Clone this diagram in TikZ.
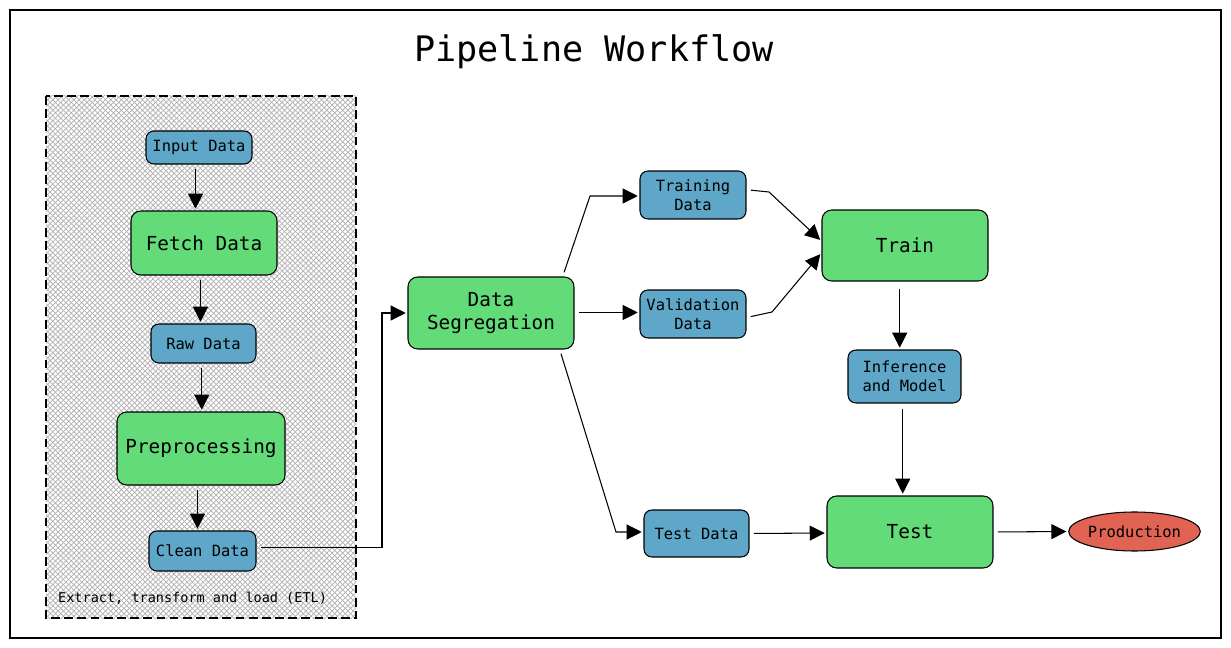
\documentclass[tikz,border=0pt]{standalone}
\usepackage{fontspec}
\setmonofont{DejaVu Sans Mono}
\usetikzlibrary{arrows.meta,patterns,shapes.geometric,positioning}

\definecolor{stagegreen}{HTML}{62DB78}
\definecolor{datablue}{HTML}{5EA7C8}
\definecolor{prodred}{HTML}{E06353}

\tikzset{
  stage/.style={draw, rounded corners=5.5pt, fill=stagegreen, align=center,
    inner sep=0pt, line width=0.6pt, font=\ttfamily\fontsize{11}{13.6}\selectfont},
  data/.style={draw, rounded corners=4.5pt, fill=datablue, align=center,
    inner sep=0pt, line width=0.6pt, font=\ttfamily\fontsize{8.8}{10.8}\selectfont},
  arr/.style={-{Triangle[length=0.3cm,width=0.3cm]}, line width=0.6pt,
    shorten <=2.5pt, shorten >=1pt}
}

\begin{document}
\begin{tikzpicture}[x=0.02cm,y=-0.02cm]

    \useasboundingbox (0,0) rectangle (1231,648);
    % outer frame
    \draw[line width=0.7pt] (10,10) rectangle (1221,638);
    \node (title) at (594,52) {\ttfamily\fontsize{20}{24}\selectfont Pipeline Workflow};

    % ETL box
    \fill[white] (46,96) rectangle (356,618);
    \fill[pattern=crosshatch, pattern color=gray!60] (46,96) rectangle (356,618);
    \draw[line width=0.7pt, dash pattern=on 5pt off 2.5pt] (46,96) rectangle (356,618);
    \node[anchor=west, font=\ttfamily\fontsize{7.7}{9}\selectfont] (etl) at (52,598)
      {Extract, transform and load (ETL)};

    % ETL stages
    \node[data, minimum width=2.12cm, minimum height=0.66cm] (inp) at (199,147.5) {Input Data};
    \node[stage, minimum width=2.92cm, minimum height=1.28cm] (fetch) at (204,243) {Fetch Data};
    \node[data, minimum width=2.10cm, minimum height=0.78cm] (raw) at (203.5,343.5) {Raw Data};
    \node[stage, minimum width=3.36cm, minimum height=1.46cm] (prep) at (201,448.5) {Preprocessing};
    \node[data, minimum width=2.14cm, minimum height=0.80cm] (clean) at (202.5,551) {Clean Data};

    % segregation and data sets
    \node[stage, minimum width=3.32cm, minimum height=1.44cm] (seg) at (491,313) {Data\\Segregation};
    \node[data, minimum width=2.12cm, minimum height=0.96cm] (trd) at (693,195) {Training\\Data};
    \node[data, minimum width=2.12cm, minimum height=0.96cm] (vad) at (693,314) {Validation\\Data};
    \node[data, minimum width=2.10cm, minimum height=0.94cm] (tsd) at (696.5,533.5) {Test Data};

    % model
    \node[stage, minimum width=3.32cm, minimum height=1.42cm] (train) at (905,245.5) {Train};
    \node[data, minimum width=2.26cm, minimum height=1.06cm] (inf) at (904.5,376.5) {Inference\\and Model};
    \node[stage, minimum width=3.32cm, minimum height=1.44cm] (test) at (910,532) {Test};
    \node[ellipse, draw, fill=prodred, inner sep=0pt, line width=0.6pt,
      minimum width=2.58cm, minimum height=0.78cm,
      font=\ttfamily\fontsize{8.8}{10.8}\selectfont] (prod) at (1134.5,531.5) {Production};

    % arrows
    \draw[arr] ([xshift=-2]inp.south) -- ([xshift=-2]inp.south |- fetch.north);
    \draw[arr] ([xshift=-2]fetch.south) -- ([xshift=-2]fetch.south |- raw.north);
    \draw[arr] ([xshift=-1]raw.south) -- ([xshift=-1]raw.south |- prep.north);
    \draw[arr] ([xshift=-2]prep.south) -- ([xshift=-2]prep.south |- clean.north);
    \draw[arr] ([yshift=2]clean.east) -| (382,313) -- (seg.west);

    \draw[arr] (seg.27) -- (590,196) -- (trd.west |- 0,196);
    \draw[arr] (seg.east |- 0,312.5) -- (vad.west |- 0,312.5);
    \draw[arr] (seg.-28) -- (616,532) -- (tsd.west |- 0,532);

    \draw[arr] ([yshift=3]trd.east) -- (769,192) -- (train.177);
    \draw[arr] ([yshift=-2]vad.east) -- (772,312) -- (train.185);
    \draw[arr, shorten <=4.5pt] ([xshift=-3]train.south) -- ([xshift=-3]train.south |- inf.north);
    \draw[arr, shorten <=3pt] ([xshift=-1]inf.south) -- ([xshift=-1]inf.south |- test.north);
    \draw[arr] (tsd.east) -- (test.west |- 0,533);
    \draw[arr] (test.east) -- (prod.west);

\end{tikzpicture}
\end{document}
